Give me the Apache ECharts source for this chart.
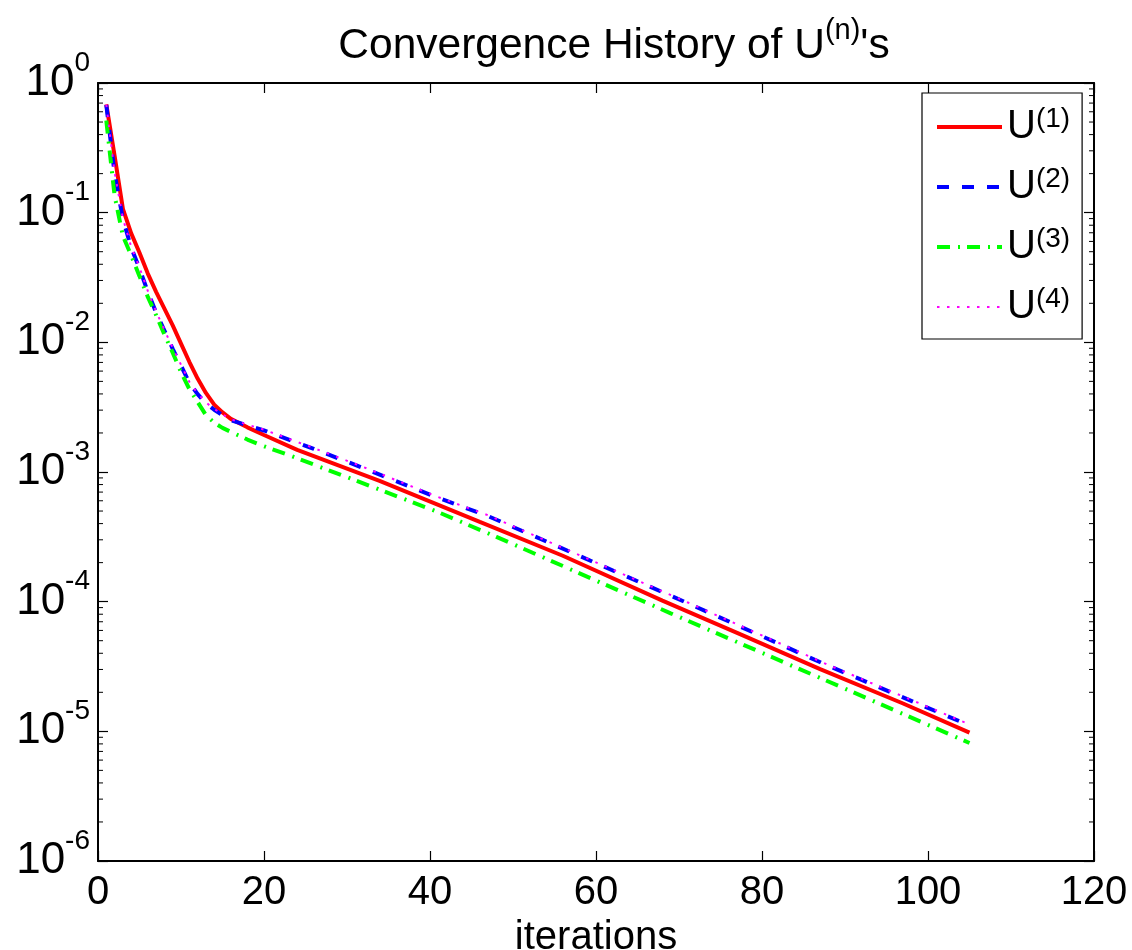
<!DOCTYPE html>
<html><head><meta charset="utf-8">
<script src="https://cdn.jsdelivr.net/npm/echarts@6/dist/echarts.min.js"></script>
<style>html,body{margin:0;padding:0;background:#fff}#c{width:1132px;height:950px}</style>
</head><body><div id="c"></div>
<script>
// ---- data ----
const X_TICKS = [0, 20, 40, 60, 80, 100, 120];
const Y_DECADES = [1e-6, 1e-5, 1e-4, 1e-3, 1e-2, 1e-1, 1];
const MINOR_MANTISSAS = [2, 3, 4, 5, 6, 7, 8, 9];
const SERIES_NAMES = ['U(1)', 'U(2)', 'U(3)', 'U(4)'];

const ITER_U1 = [1, 2, 3, 4, 5, 6, 7, 8, 9, 10, 11, 12, 13, 14, 15, 16, 18, 20, 24, 34, 46, 56, 68, 77, 87, 97, 105];
const VAL_U1 = [0.684, 0.275, 0.107, 0.0692, 0.049, 0.0339, 0.0245, 0.0182, 0.0135, 0.00977, 0.00708, 0.00525, 0.00407, 0.00331, 0.00288, 0.00257, 0.00221, 0.00193, 0.00148, 8.51e-4, 4.12e-4, 2.26e-4, 1.02e-4, 5.75e-5, 3.02e-5, 1.64e-5, 9.77e-6];

const ITER_U2 = [1, 2, 3, 4, 5, 6, 7, 8, 9, 10, 11, 12, 13, 14, 15, 16, 18, 20, 26, 32, 41, 47, 71, 88, 105];
const VAL_U2 = [0.676, 0.2, 0.0891, 0.0537, 0.0372, 0.0245, 0.017, 0.0123, 0.00891, 0.00661, 0.0049, 0.00398, 0.00339, 0.00302, 0.00275, 0.00251, 0.00229, 0.00209, 0.00151, 0.00107, 6.31e-4, 4.57e-4, 9.77e-5, 3.2e-5, 1.11e-5];

const ITER_U3 = [1, 2, 3, 4, 5, 6, 7, 8, 9, 10, 11, 12, 13, 14, 15, 16, 18, 20, 23, 30, 41, 48, 69, 91, 105];
const VAL_U3 = [0.513, 0.135, 0.0661, 0.0468, 0.0324, 0.0224, 0.0162, 0.0115, 0.00832, 0.00589, 0.00437, 0.00347, 0.00275, 0.0024, 0.00219, 0.00204, 0.00178, 0.00158, 0.00135, 9.12e-4, 4.9e-4, 3.16e-4, 8.13e-5, 2.0e-5, 8.13e-6];

const ITER_U4 = [1, 2, 3, 4, 5, 6, 7, 8, 9, 10, 11, 12, 13, 14, 15, 16, 18, 20, 26, 32, 41, 47, 71, 88, 105];
const VAL_U4 = [0.68, 0.205, 0.0905, 0.0545, 0.0378, 0.0249, 0.0173, 0.0125, 0.00905, 0.00672, 0.00497, 0.00404, 0.00344, 0.00306, 0.00279, 0.00255, 0.00232, 0.00212, 0.00153, 0.00109, 6.4e-4, 4.64e-4, 9.9e-5, 3.25e-5, 1.13e-5];

// ---- build ----
const FONT = "'Liberation Sans', Arial, Helvetica, sans-serif";
const pairs = (xs, ys) => xs.map((x, i) => [x, ys[i]]);
const MINOR_TICK_VALUES = [];
Y_DECADES.slice(0, -1).forEach(d => MINOR_MANTISSAS.forEach(m => MINOR_TICK_VALUES.push(m * d)));

const STYLES = [
  {color: '#ff0000', width: 4, type: 'solid'},
  {color: '#0000ff', width: 4, type: [12, 13]},
  {color: '#00ff00', width: 4, type: [13, 8, 2, 7]},
  {color: '#ff00ff', width: 2, type: [2.5, 7.5]}
];

const chart = echarts.init(document.getElementById('c'), null, {renderer: 'canvas'});

const axisCommon = {
  axisLine: {show: true, onZero: false, lineStyle: {color: '#000', width: 2}},
  axisTick: {show: true, inside: true, length: 10, lineStyle: {color: '#000', width: 1.2}},
  splitLine: {show: false},
  minorTick: {show: false}
};

function yLabel(v) {
  const e = Math.round(Math.log10(v));
  return '{b|10}{e|' + e + '}';
}

const option = {
  backgroundColor: '#fff',
  animation: false,
  title: {
    text: "{a|Convergence History of U}{s|(n)}{a|'s}",
    left: 609, top: 11, textAlign: 'center',
    textStyle: {
      fontWeight: 'normal',
      rich: {
        a: {fontFamily: FONT, fontSize: 42.5, fontWeight: 'normal', color: '#000', lineHeight: 60},
        s: {fontFamily: FONT, fontSize: 29, fontWeight: 'normal', color: '#000', lineHeight: 34, verticalAlign: 'top'}
      }
    }
  },
  grid: {left: 98, right: 38, top: 83, bottom: 89, containLabel: false, outerBoundsMode: 'none'},
  legend: {
    data: SERIES_NAMES.map((n, i) => ({
      name: n,
      lineStyle: {color: STYLES[i].color, width: STYLES[i].width, type: STYLES[i].type},
      itemStyle: {opacity: 0, color: 'transparent', borderWidth: 0}
    })),
    orient: 'vertical',
    left: 922, top: 93,
    padding: [12, 12, 12, 13],
    itemGap: 18,
    itemWidth: 65, itemHeight: 20,
    borderColor: '#000', borderWidth: 1.2, backgroundColor: '#fff',
    selectedMode: false,
    itemStyle: {opacity: 0},
    formatter: name => '{u|U}{s|' + name.slice(1) + '}',
    textStyle: {
      rich: {
        u: {fontFamily: FONT, fontSize: 40, color: '#000', lineHeight: 44},
        s: {fontFamily: FONT, fontSize: 28, color: '#000', lineHeight: 24, verticalAlign: 'top'}
      }
    }
  },
  xAxis: [
    Object.assign({}, axisCommon, {
      type: 'value', min: X_TICKS[0], max: X_TICKS[X_TICKS.length - 1], interval: 20, position: 'bottom',
      name: 'iterations', nameLocation: 'middle', nameGap: 52,
      nameTextStyle: {fontFamily: FONT, fontSize: 40, color: '#000'},
      axisLabel: {show: true, fontFamily: FONT, fontSize: 40, color: '#000', margin: 12}
    }),
    Object.assign({}, axisCommon, {
      type: 'value', min: X_TICKS[0], max: X_TICKS[X_TICKS.length - 1], interval: 20, position: 'top',
      axisLabel: {show: false}
    })
  ],
  yAxis: [
    Object.assign({}, axisCommon, {
      type: 'log', logBase: 10, min: Y_DECADES[0], max: Y_DECADES[Y_DECADES.length - 1], splitNumber: 6, position: 'left',
      axisLabel: {
        show: true, margin: 8, formatter: yLabel,
        rich: {
          b: {fontFamily: FONT, fontSize: 44, color: '#000', lineHeight: 68},
          e: {fontFamily: FONT, fontSize: 28, color: '#000', lineHeight: 28, verticalAlign: 'top'}
        }
      }
    }),
    Object.assign({}, axisCommon, {
      type: 'log', logBase: 10, min: Y_DECADES[0], max: Y_DECADES[Y_DECADES.length - 1], splitNumber: 6, position: 'right',
      axisLabel: {show: false}
    })
  ],
  series: [
    {
      name: 'minor', type: 'custom', xAxisIndex: 0, yAxisIndex: 0, silent: true, z: 1,
      data: MINOR_TICK_VALUES.map(v => [0, v]),
      renderItem: (params, api) => {
        const y = api.coord([api.value(0), api.value(1)])[1];
        const cs = params.coordSys;
        return {type: 'group', children: [
          {type: 'line', shape: {x1: cs.x, y1: y, x2: cs.x + 5, y2: y}, style: {stroke: '#000', lineWidth: 1}},
          {type: 'line', shape: {x1: cs.x + cs.width, y1: y, x2: cs.x + cs.width - 5, y2: y}, style: {stroke: '#000', lineWidth: 1}}
        ]};
      }
    }
  ].concat([[ITER_U1, VAL_U1], [ITER_U2, VAL_U2], [ITER_U3, VAL_U3], [ITER_U4, VAL_U4]].map((d, i) => ({
    name: SERIES_NAMES[i], type: 'line', data: pairs(d[0], d[1]), symbol: 'none', showSymbol: false,
    lineStyle: {color: STYLES[i].color, width: STYLES[i].width, type: STYLES[i].type},
    itemStyle: {color: STYLES[i].color}, z: 3 + i
  })))
};
chart.setOption(option);
</script>
</body></html>
